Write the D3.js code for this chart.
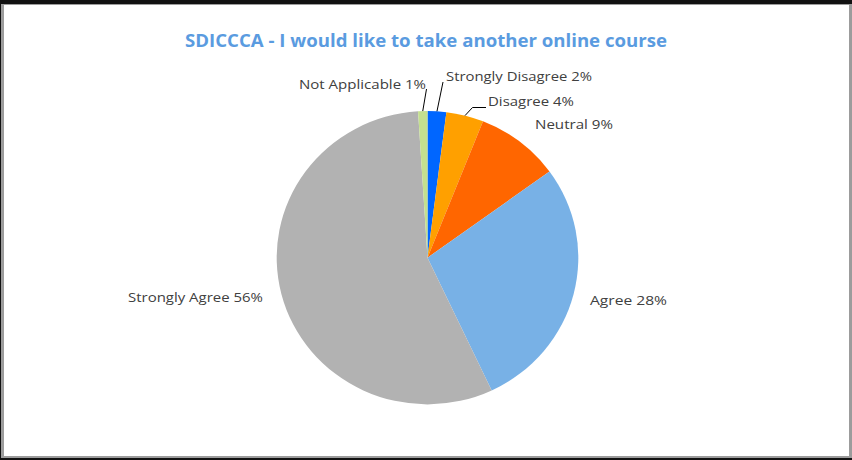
<!DOCTYPE html>
<html>
<head>
<meta charset="utf-8">
<script src="https://cdn.jsdelivr.net/npm/d3@7"></script>
<style>
  html, body { margin: 0; padding: 0; background: #fff; }
  svg { display: block; }
</style>
</head>
<body>
<svg id="chart" width="852" height="460"></svg>
<script>
// Survey responses, in clockwise order starting at 12 o'clock
const categories = ["Strongly Disagree", "Disagree", "Neutral", "Agree", "Strongly Agree", "Not Applicable"];
const percentages = [2, 4, 9, 28, 56, 1];
const sliceColors = ["#0066ff", "#ffa000", "#ff6600", "#78b1e6", "#b2b2b2", "#c4e08f"];
const chartTitle = "SDICCCA - I would like to take another online course";

// Label placement (text start x, baseline y, rendered width) and whether a leader line is drawn
const labelLayout = {
  "Strongly Disagree": { x: 446, y: 81, w: 146, leader: [443, 82] },
  "Disagree":          { x: 488, y: 106, w: 86, leader: [486, 107.5], elbow: [472.5, 107.5] },
  "Neutral":           { x: 535, y: 129, w: 78 },
  "Agree":             { x: 590, y: 305, w: 77 },
  "Strongly Agree":    { x: 128, y: 302, w: 135 },
  "Not Applicable":    { x: 299, y: 89, w: 127, leader: [426.5, 89] }
};

const svg = d3.select("#chart");
const W = 852, H = 460;

// Frame: dark outer edge, grey bevel, white plot area
svg.append("rect").attr("x", 0).attr("y", 0).attr("width", W).attr("height", H).attr("fill", "#111");
svg.append("rect").attr("x", 1).attr("y", 4).attr("width", W - 1).attr("height", H - 6).attr("fill", "#9c9c9c");
svg.append("rect").attr("x", 4).attr("y", 5).attr("width", W - 7).attr("height", H - 9).attr("fill", "#fff");

// Title
svg.append("text")
  .attr("x", 185).attr("y", 47)
  .attr("textLength", 482).attr("lengthAdjust", "spacingAndGlyphs")
  .attr("font-family", "'Open Sans', 'Liberation Sans', sans-serif")
  .attr("font-weight", "bold").attr("font-size", 17)
  .attr("fill", "#5a9be0")
  .text(chartTitle);

const data = categories.map((c, i) => ({ name: c, value: percentages[i], color: sliceColors[i] }));

const cx = 427.5, cy = 257.7, r = 146.7, sx = 1.028;
const pie = d3.pie().value(d => d.value).sort(null);
const arc = d3.arc().innerRadius(0).outerRadius(r);
const arcs = pie(data);

const g = svg.append("g").attr("transform", `translate(${cx},${cy}) scale(${sx},1)`);
g.selectAll("path")
  .data(arcs)
  .join("path")
  .attr("d", arc)
  .attr("fill", d => d.data.color);

// Leader lines from slice edge to label
const edgeArc = d3.arc().innerRadius(r).outerRadius(r);
arcs.forEach(a => {
  const lay = labelLayout[a.data.name];
  if (!lay.leader) return;
  const [px, py] = edgeArc.centroid(a);
  const start = [cx + px * sx, cy + py];
  const pts = [start];
  if (lay.elbow) pts.push(lay.elbow);
  pts.push(lay.leader);
  svg.append("path")
    .attr("d", d3.line()(pts))
    .attr("fill", "none")
    .attr("stroke", "#000")
    .attr("stroke-width", 1);
});

// Category labels
arcs.forEach(a => {
  const lay = labelLayout[a.data.name];
  svg.append("text")
    .attr("x", lay.x).attr("y", lay.y)
    .attr("textLength", lay.w).attr("lengthAdjust", "spacingAndGlyphs")
    .attr("font-family", "'Open Sans', 'Liberation Sans', sans-serif")
    .attr("font-size", 12.5)
    .attr("fill", "#404040")
    .text(`${a.data.name} ${a.data.value}%`);
});
</script>
</body>
</html>
